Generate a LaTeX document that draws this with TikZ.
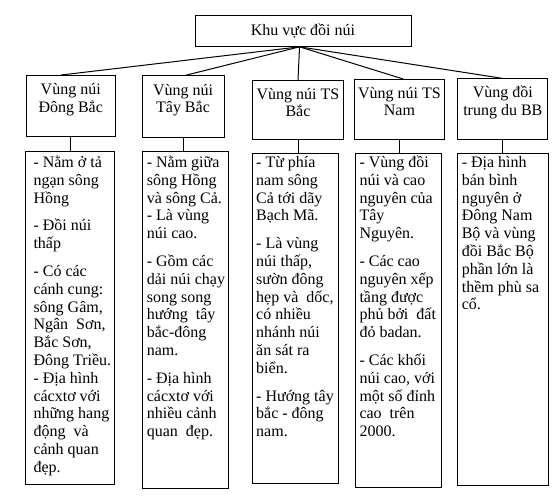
\documentclass[tikz,border=0pt]{standalone}
\usepackage{fontspec}
\setmainfont{Liberation Serif}
\usepackage{tikz}
\usetikzlibrary{calc}
\hfuzz=30pt
\hbadness=10000
% text of a box: width, height, height of first line, alignment, text
\newcommand{\celltext}[5]{\parbox[t][#2][t]{#1}{#4\rule{0pt}{#3}#5}}
% left aligned lines that may run into the right margin
\newcommand{\leftlines}{\raggedright\rightskip=-15pt plus 1fil}

\begin{document}
\begin{tikzpicture}[x=0.75pt,y=-0.75pt,
    txt/.style={font=\fontsize{12}{13.35}\selectfont},
    box/.style={draw,line width=0.75pt,anchor=north west,inner ysep=0pt,inner xsep=2pt,txt},
    link/.style={line width=0.75pt}]
          \useasboundingbox (0,0) rectangle (559,500);
          % Draw the root box
          \node[draw,line width=0.75pt,txt,minimum width=162pt,minimum height=23pt,inner sep=0pt] (root) at (303,31) {Khu vực đồi núi};
          \coordinate (hub) at ([xshift=-2.6pt]root.south);
          % Draw the five regions
          \node[box] (r1) at (25.7,75) {\celltext{62.8pt}{45.75pt}{14.5pt}{\centering}{Vùng núi\\Đông Bắc}};
          \node[box] (r2) at (141.5,75.2) {\celltext{57.5pt}{46pt}{14.5pt}{\centering}{Vùng núi\\Tây Bắc}};
          \node[box] (r3) at (251.7,80) {\celltext{64.7pt}{44.25pt}{14pt}{\centering}{Vùng núi TS\\Bắc}};
          \node[box] (r4) at (354,79) {\celltext{63.35pt}{45pt}{14pt}{\centering}{Vùng núi TS\\Nam}};
          \node[box] (r5) at (457.4,78.4) {\celltext{63.35pt}{45.45pt}{14pt}{\centering}{Vùng đồi\\trung du BB}};
          % Draw the description boxes
          \node[box,inner xsep=6pt] (d1) at (25,150.7) {\celltext{55pt}{250pt}{12.2pt}{\leftlines}{- Nằm ở tả\\ngạn sông\\Hồng\\[7.5pt]- Đồi núi\\thấp\\[7.5pt]- Có các\\cánh cung:\\sông Gâm,\\Ngân\ \ Sơn,\\Bắc Sơn,\\Đông Triều.\\- Địa hình\\cácxtơ với\\những hang\\động\ \ và\\cảnh quan\\đẹp.}};
          \node[box,inner xsep=3pt] (d2) at (142.3,151) {\celltext{58pt}{252.75pt}{12pt}{\leftlines}{- Nằm giữa\\sông Hồng\\và sông Cả.\\- Là vùng\\núi cao.\\[7.5pt]- Gồm các\\dải núi chạy\\song song\\hướng\ \ tây\\bắc-đông\\nam.\\[7.5pt]- Địa hình\\cácxtơ với\\nhiều cảnh\\quan\ \ đẹp.}};
          \node[box,inner xsep=3pt] (d3) at (251.7,153.3) {\celltext{59pt}{247pt}{10.3pt}{\leftlines}{- Từ phía\\nam sông\\Cả tới dãy\\Bạch Mã.\\[7.5pt]- Là vùng\\núi thấp,\\sườn đông\\hẹp và\ \ dốc,\\có nhiều\\nhánh núi\\ăn sát ra\\biển.\\[7.5pt]- Hướng tây\\bắc - đông\\nam.}};
          \node[box,inner xsep=3pt] (d4) at (355,153.3) {\celltext{58.3pt}{250pt}{10.3pt}{\leftlines}{- Vùng đồi\\núi và cao\\nguyên của\\Tây\\Nguyên.\\[7.5pt]- Các cao\\nguyên xếp\\tầng được\\phủ bởi\ \ đất\\đỏ badan.\\[7.5pt]- Các khối\\núi cao, với\\một số đỉnh\\cao\ \ trên\\2000.}};
          \node[box,inner xsep=3pt] (d5) at (457.3,153.3) {\celltext{61.8pt}{248.8pt}{10.3pt}{\leftlines}{- Địa hình\\bán bình\\nguyên ở\\Đông Nam\\Bộ và vùng\\đồi Bắc Bộ\\phần lớn là\\thềm phù sa\\cổ.}};
          % Connect the root to the regions
          \draw[link] (hub) -- ([xshift=-7.2pt]r1.north);
          \draw[link] (hub) -- ([xshift=2.2pt]r2.north);
          \draw[link] (hub) -- (r3.north);
          \draw[link] (hub) -- ([xshift=2.9pt]r4.north);
          \draw[link] (hub) -- (r5.north);
          % Connect the regions to their descriptions
          \draw[link] (r1.south) -- (r1.south |- d1.north);
          \draw[link] (r2.south) -- (r2.south |- d2.north);
          \draw[link] (r3.south) -- (r3.south |- d3.north);
          \draw[link] (r4.south) -- (r4.south |- d4.north);
          \draw[link] (r5.south) -- (r5.south |- d5.north);
        \end{tikzpicture}
\end{document}
